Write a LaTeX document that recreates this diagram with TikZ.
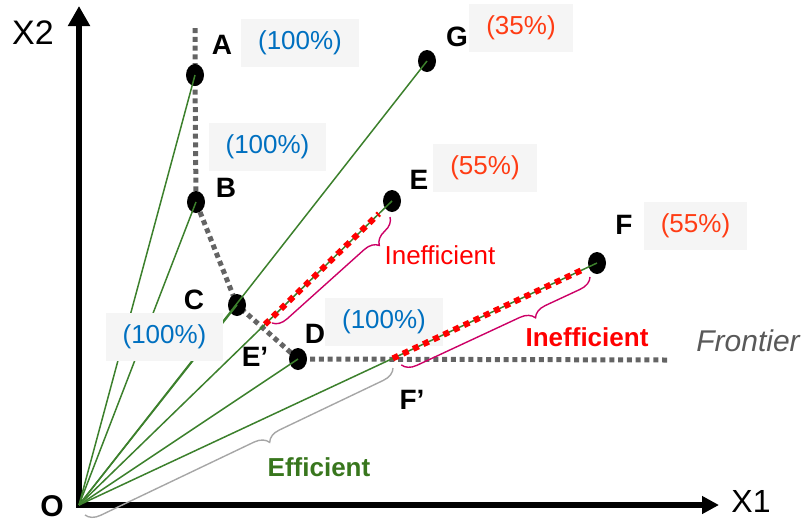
\documentclass[tikz,border=0pt]{standalone}
\usepackage{fontspec}
\setmainfont{Liberation Sans}
\usetikzlibrary{arrows.meta,shapes.geometric,decorations.pathreplacing,backgrounds}

\definecolor{raygreen}{RGB}{60,128,44}
\definecolor{effgreen}{RGB}{56,118,29}
\definecolor{pctblue}{RGB}{0,112,192}
\definecolor{pctred}{RGB}{255,60,20}
\definecolor{boxgray}{RGB}{245,245,245}
\definecolor{frontgray}{RGB}{100,100,100}
\definecolor{bracepink}{RGB}{204,0,102}

\tikzset{
  dmu/.style={ellipse,fill=black,inner sep=0pt,minimum width=9pt,minimum height=11pt},
  lbl/.style={font=\fontsize{14}{16}\selectfont\bfseries},
  pct/.style={fill=boxgray,minimum height=24pt,inner xsep=8.5pt,font=\fontsize{13}{15}\selectfont},
  txt/.style={font=\fontsize{13}{15}\selectfont},
  ray/.style={draw=raygreen,line width=0.75pt},
  front/.style={draw=frontgray,line width=2.5pt,dash pattern=on 2.5pt off 1.9pt},
  waste/.style={draw=red,line width=3pt,dash pattern=on 3pt off 2.6pt},
  brc/.style={decorate,decoration={brace,amplitude=7pt,aspect=#1},line width=0.7pt},
}

\begin{document}
\begin{tikzpicture}[x=0.5pt,y=-0.5pt]
\useasboundingbox (0,0) rectangle (802,521);

% axes
\coordinate (O) at (79,505);
\coordinate (ytop) at (79,6);
\coordinate (xend) at (719,505);
\draw[line width=3pt,{Triangle[length=10pt,width=10.5pt]}-{Triangle[length=8.5pt,width=8.5pt]}] (ytop) |- (xend);
\node[font=\fontsize{17}{19}\selectfont] (x2lab) at (33,33) {X2};
\node[font=\fontsize{16}{18}\selectfont] (x1lab) at (751,501) {X1};
\node[font=\fontsize{15}{17}\selectfont\bfseries] (Olab) at (52,506) {O};

% units
\node[dmu] (A) at (195,75) {};
\node[dmu] (B) at (196,202) {};
\node[dmu] (C) at (237,305) {};
\node[dmu] (D) at (298,359) {};
\node[dmu] (E) at (392,201) {};
\node[dmu] (F) at (597,263) {};
\node[dmu] (G) at (427,61) {};

% frontier behind the units
\coordinate (Atop) at (195,28);
\coordinate (Fend) at (668,360);
\begin{scope}[on background layer]
\draw[front] (Atop) -- (A.center) -- (B.center) -- (C.center) -- (D.center) -- (Fend);
\end{scope}

% scores
\node[pct,text=pctblue] (pA) at (300,43) {(100\%)};
\node[pct,text=pctblue] (pB) at (267.5,147) {(100\%)};
\node[pct,text=pctblue] (pD) at (384,321.5) {(100\%)};
\node[pct,text=pctred] (pG) at (521,28) {(35\%)};
\node[pct,text=pctred] (pE) at (485,168) {(55\%)};
\node[pct,text=pctred] (pF) at (695.5,226) {(55\%)};

\foreach \u in {A,B,C,D,E,F,G}
  \draw[ray] (O) -- (\u.center);

\node[pct,text=pctblue] (pC) at (164.5,337) {(100\%)};

\coordinate (Ep) at (intersection of O--E and C--D);
\coordinate (Fp) at (intersection of O--F and D--Fend);
\draw[waste,shorten <=2pt,shorten >=4pt] (Ep) -- (E);
\draw[waste,shorten <=1pt,shorten >=4pt] (Fp) -- (F);

% braces
\coordinate (bE1) at (390,217);
\coordinate (bE2) at (272,323);
\coordinate (bF1) at (590,277);
\coordinate (bF2) at (401,365);
\coordinate (bO1) at (393,368);
\coordinate (bO2) at (85,515);
\draw[brc=0.17,draw=bracepink] (bE1) -- (bE2);
\draw[brc=0.32,draw=bracepink] (bF1) -- (bF2);
\draw[brc=0.42,draw=black!35] (bO1) -- (bO2);

\node[lbl] (Alab) at (222,45) {A};
\node[lbl] (Blab) at (226,188) {B};
\node[lbl] (Clab) at (194,300) {C};
\node[lbl] (Dlab) at (315,334) {D};
\node[lbl] (Elab) at (419,180) {E};
\node[lbl] (Flab) at (624,225) {F};
\node[lbl] (Glab) at (457,37) {G};
\node[lbl] (Eplab) at (255,357) {E’};
\node[lbl] (Fplab) at (412,400) {F’};

\node[txt,text=red] (ineffE) at (440,255) {Inefficient};
\node[txt,text=red,font=\fontsize{13}{15}\selectfont\bfseries] (ineffF) at (587,337) {Inefficient};
\node[txt,text=effgreen,font=\fontsize{13}{15}\selectfont\bfseries] (eff) at (319,467) {Efficient};
\node[text=black!65,font=\fontsize{15}{17}\selectfont\itshape] (frontlab) at (748,341) {Frontier};
\end{tikzpicture}
\end{document}
